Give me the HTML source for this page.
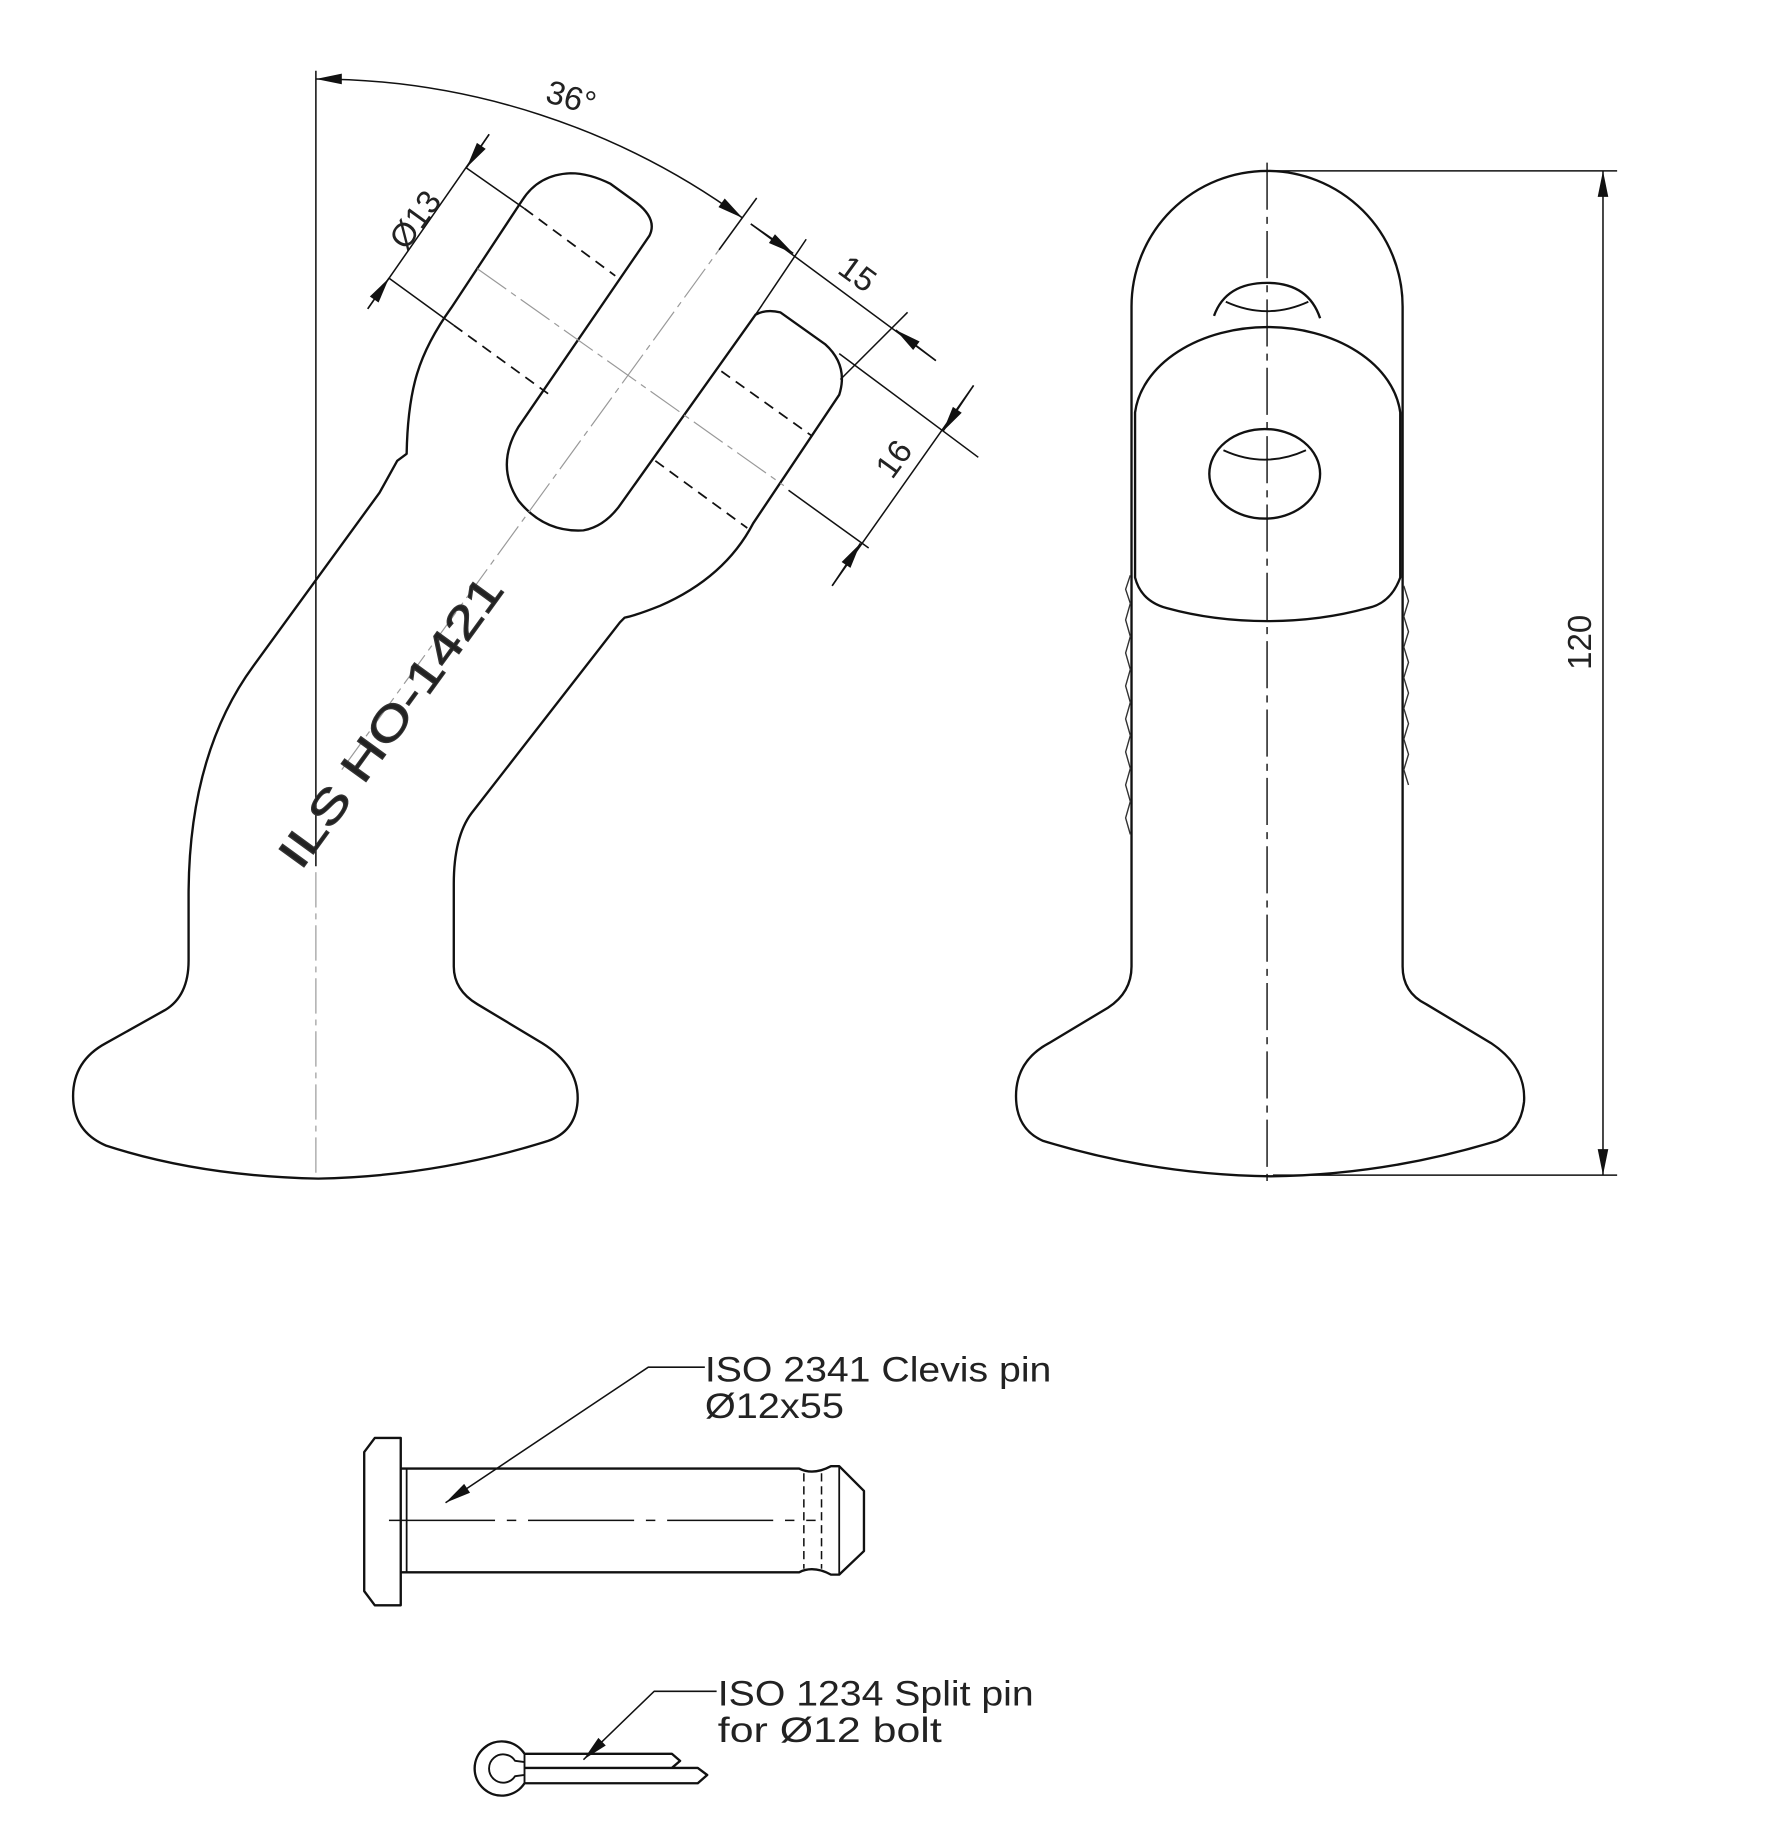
<!DOCTYPE html>
<html><head><meta charset="utf-8"><style>
html,body{margin:0;padding:0;background:#fff;}
svg{display:block;}
text{font-family:"Liberation Sans",sans-serif;fill:#222;}
</style></head><body>
<svg width="1768" height="1841" viewBox="0 0 1500 1562" preserveAspectRatio="none" xmlns="http://www.w3.org/2000/svg">
<defs>
<marker id="a" markerUnits="userSpaceOnUse" markerWidth="30" markerHeight="12" viewBox="-24 -6 26 12" refX="0" refY="0" orient="auto-start-reverse">
<path d="M0,0 L-22,-4.5 L-22,4.5 Z" fill="#111"/>
</marker>
</defs>
<g fill="none" stroke="#111" stroke-width="2" stroke-linejoin="round">
<path d="M 345 385 C 346 330 355 300 383 261 L 443 170 Q 457 148 484 147 Q 500 147 518 156 L 540 172 Q 558 186 551 200 L 440 362 Q 420 395 440 425 Q 462 452 495 450 Q 512 447 525 430 L 641 267 Q 650 262 662 265 L 700 292 Q 720 310 712 335 L 639 444 Q 615 490 560 514 Q 540 522 530 524 L 526 528 L 400 690 Q 385 710 385 750 L 385 820 Q 385 840 405 852 L 460 885 Q 492 905 490 935 Q 488 960 465 968 Q 370 998 270 1000 Q 170 998 90 972 Q 62 960 62 930 Q 62 900 90 885 L 140 857 Q 160 845 160 815 L 160 760 Q 160 640 215 565 L 322 418 L 337 391 Z"/>
<g stroke-width="1.5" stroke-dasharray="9 6">
<line x1="445" y1="177" x2="522" y2="234"/>
<line x1="385" y1="276" x2="465" y2="334"/>
<line x1="612" y1="315" x2="689" y2="370"/>
<line x1="556" y1="391" x2="634" y2="448"/>
</g>
<g stroke-width="1.3">
<line x1="268" y1="60" x2="268" y2="735"/>
<line x1="395" y1="142" x2="445" y2="177"/>
<line x1="330" y1="236" x2="385" y2="276"/>
<line x1="415" y1="114" x2="312" y2="262"/>
<line x1="610" y1="212" x2="642" y2="168"/>
<line x1="641" y1="267" x2="684" y2="203"/>
<line x1="713" y1="322" x2="770" y2="265"/>
<line x1="637" y1="190" x2="794" y2="306"/>
<line x1="712" y1="300" x2="830" y2="388"/>
<line x1="669" y1="416" x2="737" y2="465"/>
<line x1="826" y1="327" x2="706" y2="497"/>
</g>
<g stroke-width="1.3">
<line x1="415" y1="114" x2="396" y2="142" marker-end="url(#a)"/>
<line x1="312" y1="262" x2="330" y2="236" marker-end="url(#a)"/>
<line x1="637" y1="190" x2="673" y2="215" marker-end="url(#a)"/>
<line x1="794" y1="306" x2="760" y2="280" marker-end="url(#a)"/>
<line x1="826" y1="327" x2="800" y2="366" marker-end="url(#a)"/>
<line x1="706" y1="497" x2="730" y2="461" marker-end="url(#a)"/>
<path d="M 268 67 A 616 616 0 0 1 630 185" marker-start="url(#a)" marker-end="url(#a)"/>
</g>
<g stroke="#999" stroke-width="1" stroke-dasharray="30 5 5 5">
<line x1="268" y1="740" x2="268" y2="1000"/>
<line x1="290" y1="653" x2="610" y2="212"/>
<line x1="405" y1="228" x2="665" y2="412"/>
</g>

<path d="M 960 820 L 960 260 A 115 115 0 0 1 1190 260 L 1190 820 Q 1190 842 1210 852 L 1265 885 Q 1295 905 1293 935 Q 1290 960 1270 968 Q 1175 997 1078 998 Q 980 997 885 968 Q 862 958 862 930 Q 862 900 890 885 L 940 855 Q 960 842 960 820 Z"/>
<path d="M 1030 268 Q 1040 240 1075 240 Q 1110 240 1120 270"/>
<path d="M 1040 256 Q 1075 272 1110 256" stroke-width="1.6"/>
<path d="M 963 350 A 113 80 0 0 1 1188 350 L 1188 490 Q 1180 512 1160 516 Q 1120 527 1075 527 Q 1030 527 990 516 Q 968 510 963 490 Z" fill="#fff"/>
<ellipse cx="1073" cy="402" rx="47" ry="38"/>
<path d="M 1038 382 Q 1073 398 1108 382" stroke-width="1.6"/>
<g stroke-width="1.2" stroke="#333">
<polyline points="959,488 955,500 959,512 955,526 959,540 955,554 959,568 955,582 959,596 955,610 959,624 955,638 959,652 955,666 959,680 955,694 959,708"/>
<polyline points="1191,497 1195,510 1191,523 1195,536 1191,549 1195,562 1191,575 1195,588 1191,601 1195,614 1191,627 1195,640 1191,653 1195,666"/>
</g>
<line x1="1075" y1="138" x2="1075" y2="1002" stroke-width="1.2" stroke-dasharray="40 6 6 6"/>
<g stroke-width="1.3">
<line x1="1075" y1="145" x2="1372" y2="145"/>
<line x1="1080" y1="997" x2="1372" y2="997"/>
<line x1="1360" y1="145" x2="1360" y2="997" marker-start="url(#a)" marker-end="url(#a)"/>
</g>

<path d="M 318 1220 L 340 1220 L 340 1362 L 318 1362 L 309 1350 L 309 1232 Z"/>
<path d="M 340 1246 L 678 1246 Q 690 1252 705 1244 L 712 1244 L 733 1265 L 733 1316 L 712 1336 L 705 1336 Q 690 1328 678 1334 L 340 1334"/>
<line x1="345" y1="1246" x2="345" y2="1334" stroke-width="1.5"/>
<line x1="712" y1="1244" x2="712" y2="1336" stroke-width="1.5"/>
<g stroke-width="1.3" stroke-dasharray="7 4">
<line x1="682" y1="1250" x2="682" y2="1331"/>
<line x1="697" y1="1250" x2="697" y2="1331"/>
</g>
<line x1="330" y1="1290" x2="692" y2="1290" stroke-width="1.3" stroke-dasharray="90 10 8 10"/>
<polyline points="598,1160 550,1160 378,1275" stroke-width="1.3" marker-end="url(#a)"/>

<path d="M 445 1488 L 570 1488 L 577 1494 L 570 1500 M 445 1500 L 592 1500 L 600 1506 L 592 1513 L 445 1513 M 445 1488 A 23 23 0 1 0 445 1513"/>
<path d="M 445 1495 L 437 1494 A 12 12 0 1 0 437 1507 L 445 1506" stroke-width="1.6"/>
<line x1="445" y1="1488" x2="445" y2="1513" stroke-width="1.6"/>
<polyline points="608,1435 555,1435 495,1493" stroke-width="1.3" marker-end="url(#a)"/>
</g>

<text x="0" y="0" font-size="28" transform="translate(482,92) rotate(16)" text-anchor="middle">36°</text>
<text x="0" y="0" font-size="28" transform="translate(360,192) rotate(-54)" text-anchor="middle">Ø13</text>
<text x="0" y="0" font-size="28" transform="translate(722,240) rotate(36)" text-anchor="middle">15</text>
<text x="0" y="0" font-size="28" transform="translate(766,395) rotate(-54)" text-anchor="middle">16</text>
<text x="0" y="0" font-size="28" transform="translate(1350,545) rotate(-90)" text-anchor="middle">120</text>
<text x="0" y="0" font-size="38" transform="translate(342,620) rotate(-54)" text-anchor="middle" textLength="295" lengthAdjust="spacingAndGlyphs" fill="none" stroke="#333" stroke-width="0.9">ILS HO-1421</text>
<text x="598" y="1172" font-size="30" textLength="294" lengthAdjust="spacingAndGlyphs">ISO 2341 Clevis pin</text>
<text x="598" y="1203" font-size="30" textLength="118" lengthAdjust="spacingAndGlyphs">Ø12x55</text>
<text x="609" y="1447" font-size="30" textLength="268" lengthAdjust="spacingAndGlyphs">ISO 1234 Split pin</text>
<text x="609" y="1478" font-size="30" textLength="190" lengthAdjust="spacingAndGlyphs">for Ø12 bolt</text>
</svg>
</body></html>
